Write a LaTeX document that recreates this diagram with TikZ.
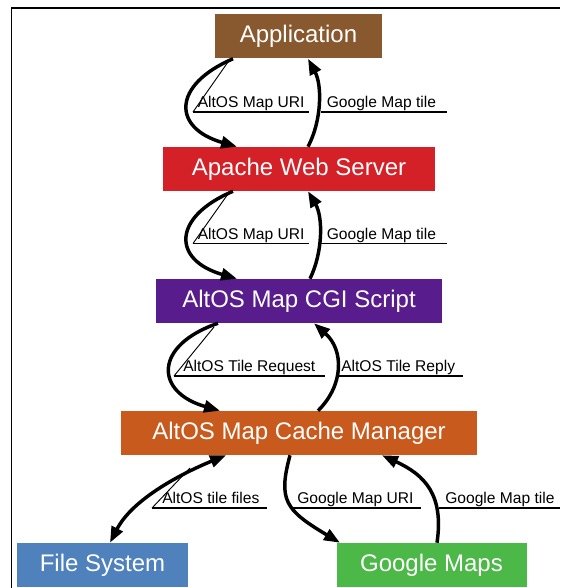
\documentclass[tikz,border=0pt]{standalone}
\usepackage{fontspec}
\setmainfont{Liberation Sans}
\usetikzlibrary{arrows.meta,calc}
\definecolor{cbrown}{RGB}{136,88,46}
\definecolor{cred}{RGB}{212,32,39}
\definecolor{cpurple}{RGB}{88,28,140}
\definecolor{corange}{RGB}{200,90,30}
\definecolor{cblue}{RGB}{79,129,189}
\definecolor{cgreen}{RGB}{76,184,72}
\begin{document}
\begin{tikzpicture}[x=0.75pt,y=-0.75pt,
  box/.style={rectangle, inner sep=0pt, minimum height=33pt, text=white,
    font=\fontsize{18pt}{20pt}\selectfont},
  edge/.style={line width=2.6pt, -{Triangle[length=12pt,width=9pt]}},
  biedge/.style={line width=2.6pt, {Triangle[length=12pt,width=9pt]}-{Triangle[length=12pt,width=9pt]}},
  lbl/.style={anchor=base west, inner sep=0pt, font=\fontsize{11.7pt}{13pt}\selectfont},
  uline/.style={line width=0.9pt},
  deco/.style={line width=0.7pt}]
\useasboundingbox (0,0) rectangle (560,588);
% frame
\draw[line width=1.6pt] (11,7.6) -- (560,7.6);
\draw[line width=0.8pt] (11.7,7) -- (11.7,588);
% nodes
\node[box, fill=cbrown, minimum width=125.25pt] (app) at (298.5,36.5) {Application};
\node[box, fill=cred, minimum width=204pt] (apache) at (299,169) {Apache Web Server};
\node[box, fill=cpurple, minimum width=214.5pt] (cgi) at (299,301) {AltOS Map CGI Script};
\node[box, fill=corange, minimum width=267pt] (cache) at (299,433) {AltOS Map Cache Manager};
\node[box, fill=cblue, minimum width=128.25pt] (fs) at (102.5,565) {File System};
\node[box, fill=cgreen, minimum width=142.5pt] (gm) at (431.5,565) {Google Maps};
% edges app <-> apache
\draw[edge] ($(app.south)+(-65.5,0)$) .. controls (172,85) and (172,128) .. ($(apache.north)+(-62,0)$);
\draw[edge] ($(apache.north)+(9,0)$) .. controls (322,120) and (322,85) .. ($(app.south)+(9.5,0)$);
\node[lbl] (l1) at (197.5,107.5) {AltOS Map URI};
\coordinate (u1a) at (193,112); \coordinate (u1b) at (309,112); \coordinate (d1) at (228,62);
\draw[uline] (u1a) -- (u1b); \draw[deco] (u1a) -- (d1);
\node[lbl] (l2) at (326.5,107.5) {Google Map tile};
\coordinate (u2a) at (321,112); \coordinate (u2b) at (447,112);
\draw[uline] (u2a) -- (u2b);
% apache <-> cgi
\draw[edge] ($(apache.south)+(-66,0)$) .. controls (172,217) and (172,260) .. ($(cgi.north)+(-62,0)$);
\draw[edge] ($(cgi.north)+(11,0)$) .. controls (323,252) and (323,217) .. ($(apache.south)+(9,0)$);
\node[lbl] (l3) at (197.5,239) {AltOS Map URI};
\coordinate (u3a) at (193,243.5); \coordinate (u3b) at (309,243.5); \coordinate (d3) at (228,194);
\draw[uline] (u3a) -- (u3b); \draw[deco] (u3a) -- (d3);
\node[lbl] (l4) at (326.5,239) {Google Map tile};
\coordinate (u4a) at (321,243.5); \coordinate (u4b) at (447,243.5);
\draw[uline] (u4a) -- (u4b);
% cgi <-> cache
\draw[edge] ($(cgi.south)+(-81,0)$) .. controls (154,345) and (154,392) .. ($(cache.north)+(-79,0)$);
\draw[edge] ($(cache.north)+(19,0)$) .. controls (344,385) and (344,350) .. ($(cgi.south)+(15,0)$);
\node[lbl] (l5) at (183,371) {AltOS Tile Request};
\coordinate (u5a) at (174,376); \coordinate (u5b) at (325,376); \coordinate (d5) at (214,327);
\draw[uline] (u5a) -- (u5b); \draw[deco] (u5a) -- (d5);
\node[lbl] (l6) at (341,371) {AltOS Tile Reply};
\coordinate (u6a) at (338,376); \coordinate (u6b) at (463,376);
\draw[uline] (u6a) -- (u6b);
% cache <-> fs
\draw[biedge] ($(fs.north)+(7.5,0)$) .. controls (133,498) and (185,472) .. ($(cache.south)+(-73,0)$);
\node[lbl] (l7) at (162,503) {AltOS tile files};
\coordinate (u7a) at (152,508); \coordinate (u7b) at (267,508); \coordinate (d7) at (190,468);
\draw[uline] (u7a) -- (u7b); \draw[deco] (u7a) -- (d7);
% cache <-> gm
\draw[edge] ($(cache.south)+(-9,0)$) .. controls (278,500) and (285,510) .. ($(gm.north)+(-91.5,0)$);
\draw[edge] ($(gm.north)+(5.5,0)$) .. controls (444,495) and (425,475) .. ($(cache.south)+(83,0)$);
\node[lbl] (l8) at (297,503) {Google Map URI};
\coordinate (u8a) at (292,508); \coordinate (u8b) at (421,508);
\draw[uline] (u8a) -- (u8b);
\node[lbl] (l9) at (445,503) {Google Map tile};
\coordinate (u9a) at (439,508); \coordinate (u9b) at (560,508);
\draw[uline] (u9a) -- (u9b);
\end{tikzpicture}
\end{document}
